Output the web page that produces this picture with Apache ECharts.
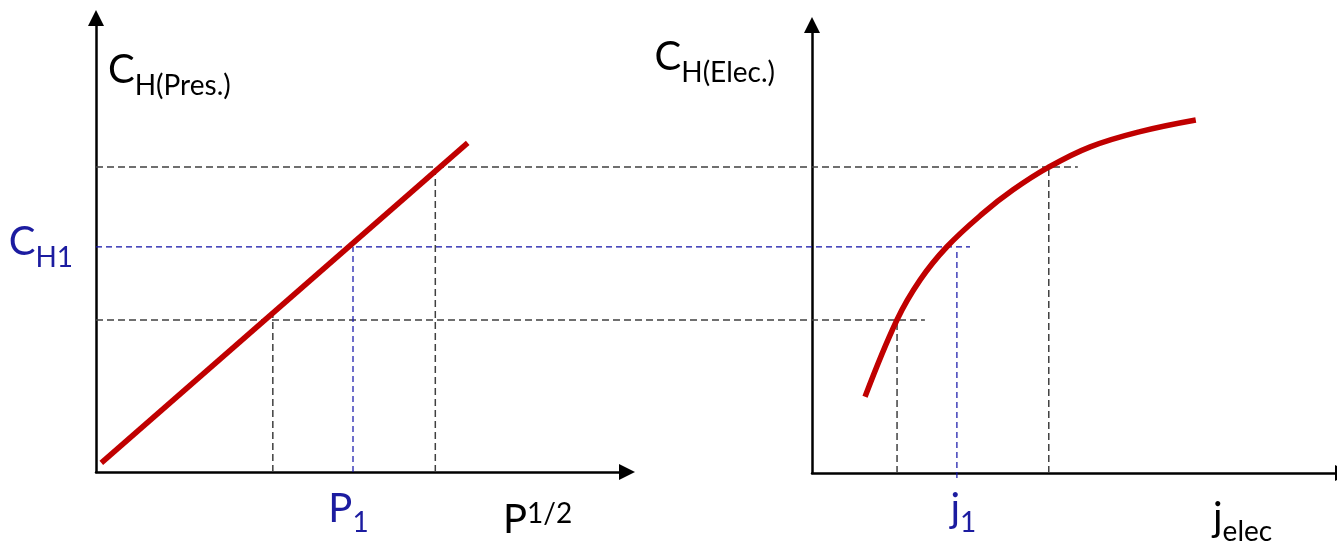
<!DOCTYPE html>
<html>
<head>
<meta charset="utf-8">
<script src="https://cdn.jsdelivr.net/npm/echarts@6/dist/echarts.min.js"></script>
<style>
  html, body { margin: 0; padding: 0; background: #ffffff; }
  #chart { width: 1337px; height: 548px; }
</style>
</head>
<body>
<div id="chart"></div>
<script>
// Hydrogen concentration: against the square root of pressure (left)
// and against electrolysis current density (right). Arbitrary units 0..10.
const presRoot = [0.1, 7.0];
const presConc = [0.2, 7.25];

const elecCurrent = [1.01, 1.62, 2.06, 2.57, 3.26, 3.83, 4.50, 5.30, 6.25, 7.31];
const elecConc    = [1.70, 3.42, 4.31, 5.05, 5.80, 6.32, 6.82, 7.28, 7.62, 7.88];

// Concentration levels carried across both panels (left-panel units)
// and how far along the left pressure scale each guide reaches.
const levelConc  = [3.35, 4.96, 6.72];
const levelReach = [15.61, 16.46, 18.49];

// Pressures matching those levels, and the height of each drop line
const presAtLevel  = [3.33, 4.84, 6.39];
const presGuideTop = [3.57, 4.96, 6.72];

// Current densities matching those levels (right-panel units)
const elecAtLevel   = [1.62, 2.76, 4.51];
const elecGuideTop  = [3.42, 4.98, 6.83];
const elecGuideBase = [0, -0.11, 0];

// Middle level is the highlighted one (C_H1, P1, j1)
const guideIsKey = [false, true, false];

const FONT = 'Lato';
const INK = '#000000';
const KEY = '#1c1ca0';
const RED = '#c00000';

// m: main glyph (top of line), s/t: subscripts (bottom of a taller line),
// u: superscript
function richFor(color) {
  return {
    m: { fontFamily: FONT, fontSize: 40, lineHeight: 40, verticalAlign: 'top', color: color },
    s: { fontFamily: FONT, fontSize: 28, lineHeight: 50, verticalAlign: 'bottom', color: color },
    t: { fontFamily: FONT, fontSize: 28, lineHeight: 48, verticalAlign: 'bottom', color: color },
    u: { fontFamily: FONT, fontSize: 28, lineHeight: 26, verticalAlign: 'top', color: color }
  };
}

function axisLineWith(endOffset) {
  return {
    show: true,
    symbol: ['none', 'triangle'],
    symbolSize: [16, 16],
    symbolOffset: [0, endOffset],
    lineStyle: { color: INK, width: 2.5 }
  };
}

const hiddenAxis = {
  show: false, type: 'value', min: 0,
  axisLine: { show: false }, axisTick: { show: false },
  axisLabel: { show: false }, splitLine: { show: false }
};

function guideStyle(i) {
  return guideIsKey[i]
    ? { color: '#1010a8', width: 1.2, type: [6, 4] }
    : { color: '#404040', width: 1.5, type: [7, 4] };
}

function lineSeries(xi, yi, xs, ys, style, extra) {
  return Object.assign({
    type: 'line',
    xAxisIndex: xi,
    yAxisIndex: yi,
    data: xs.map((x, k) => [x, ys[k]]),
    showSymbol: false,
    symbol: 'none',
    silent: true,
    clip: false,
    animation: false,
    lineStyle: style,
    z: 2
  }, extra || {});
}

const series = [];

// Level guides spanning both panels (drawn on the full-width overlay grid,
// which shares the left panel's scale)
levelConc.forEach((c, i) => {
  series.push(lineSeries(2, 2, [0, levelReach[i]], [c, c], guideStyle(i)));
});
// Drop lines to the pressure axis
presAtLevel.forEach((p, i) => {
  series.push(lineSeries(0, 0, [p, p], [0, presGuideTop[i]], guideStyle(i)));
});
// Drop lines to the current-density axis
elecAtLevel.forEach((j, i) => {
  series.push(lineSeries(1, 1, [j, j], [elecGuideBase[i], elecGuideTop[i]], guideStyle(i)));
});

// Sieverts-type linear relation
series.push(lineSeries(0, 0, presRoot, presConc,
  { color: RED, width: 5.5, cap: 'butt' }, { z: 5 }));
// Saturating electrolytic charging curve
series.push(lineSeries(1, 1, elecCurrent, elecConc,
  { color: RED, width: 5.5, cap: 'butt' }, { z: 5, smooth: 0.4 }));

const chart = echarts.init(document.getElementById('chart'), null, { renderer: 'canvas' });

chart.setOption({
  backgroundColor: '#ffffff',
  animation: false,
  grid: [
    { left: 96, top: 18, width: 531, height: 454 },
    { left: 812, top: 25, width: 525, height: 448 },
    { left: 96, top: 18, width: 1062, height: 454 }
  ],
  xAxis: [
    {
      type: 'value', gridIndex: 0, min: 0, max: 10,
      axisLine: axisLineWith(0), axisTick: { show: false }, splitLine: { show: false },
      axisLabel: {
        customValues: [presAtLevel[1]],
        formatter: () => '{m|P}{t|1}',
        margin: 17,
        padding: [0, 9, 0, 0],
        rich: richFor(KEY)
      },
      name: '{m|P}{u|1/2}',
      nameLocation: 'end',
      nameGap: -124,
      nameTextStyle: { align: 'left', verticalAlign: 'top', padding: [28, 0, 0, 0], rich: richFor(INK) }
    },
    {
      type: 'value', gridIndex: 1, min: 0, max: 10,
      axisLine: axisLineWith(6), axisTick: { show: false }, splitLine: { show: false },
      axisLabel: {
        customValues: [elecAtLevel[1]],
        formatter: () => '{m|j}{t|1}',
        margin: 16,
        padding: [0, 0, 0, 13],
        rich: richFor(KEY)
      },
      name: '{m|j}{t|elec}',
      nameLocation: 'end',
      nameGap: -124,
      nameTextStyle: { align: 'left', verticalAlign: 'top', padding: [25, 0, 0, 0], rich: richFor(INK) }
    },
    Object.assign({ gridIndex: 2, max: 20 }, hiddenAxis)
  ],
  yAxis: [
    {
      type: 'value', gridIndex: 0, min: 0, max: 10,
      axisLine: axisLineWith(0), axisTick: { show: false }, splitLine: { show: false },
      axisLabel: {
        customValues: [levelConc[1]],
        formatter: () => '{m|C}{s|H1}',
        margin: 23,
        rich: richFor(KEY)
      },
      name: '{m|C}{s|H(Pres.)}',
      nameLocation: 'end',
      nameGap: -32,
      nameTextStyle: { align: 'left', verticalAlign: 'top', padding: [0, 0, 0, 12], rich: richFor(INK) }
    },
    {
      type: 'value', gridIndex: 1, min: 0, max: 10,
      axisLine: axisLineWith(0), axisTick: { show: false }, splitLine: { show: false },
      axisLabel: { show: false },
      name: '{m|C}{s|H(Elec.)}',
      nameLocation: 'end',
      nameGap: -12,
      nameTextStyle: { align: 'right', verticalAlign: 'top', padding: [0, 37, 0, 0], rich: richFor(INK) }
    },
    Object.assign({ gridIndex: 2, max: 10 }, hiddenAxis)
  ],
  series: series
});
</script>
</body>
</html>
